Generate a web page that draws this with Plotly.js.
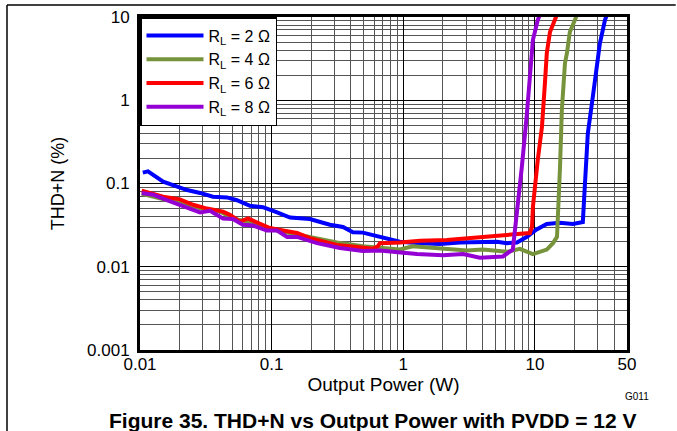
<!DOCTYPE html>
<html>
<head>
<meta charset="utf-8">
<script src="https://cdn.plot.ly/plotly-3.0.1.min.js"></script>
<style>html,body{margin:0;padding:0;background:#fff;}#chart{width:677px;height:431px;}</style>
</head>
<body>
<div id="chart"></div>
<script>
// Series names
const seriesNames = ['R<sub>L</sub> = 2 Ω', 'R<sub>L</sub> = 4 Ω', 'R<sub>L</sub> = 6 Ω', 'R<sub>L</sub> = 8 Ω'];
const seriesColors = ['#0000FF', '#77933C', '#FF0000', '#9400D3'];

// Output power (W) and THD+N (%)
const p2 = [0.0105, 0.0115, 0.015, 0.0228, 0.0286, 0.0358, 0.0458, 0.0545, 0.0684, 0.0859, 0.110, 0.138, 0.195, 0.277, 0.348, 0.414, 0.493, 0.664, 0.942, 1.34, 1.90, 2.69, 3.82, 5.14, 6.12, 7.30, 8.69, 10.3, 12.3, 15.4, 19.4, 23.1, 23.9, 25.2, 27.5, 29.5, 31.1, 34.0, 35.5];
const thd2 = [0.135, 0.14, 0.105, 0.0835, 0.077, 0.0695, 0.068, 0.063, 0.054, 0.052, 0.045, 0.039, 0.0375, 0.032, 0.030, 0.026, 0.0257, 0.0229, 0.020, 0.0192, 0.0188, 0.0196, 0.020, 0.020, 0.0192, 0.0196, 0.0229, 0.028, 0.0327, 0.0338, 0.0327, 0.0345, 0.0916, 0.40, 1.1, 2.5, 4.8, 9.2, 11];

const p4 = [0.0103, 0.0135, 0.0201, 0.0323, 0.0405, 0.0508, 0.0649, 0.097, 0.138, 0.221, 0.313, 0.493, 0.664, 0.942, 1.18, 1.59, 2.14, 3.04, 4.02, 6.12, 7.67, 9.64, 12.3, 13.7, 14.7, 14.9, 15.5, 16.0, 16.9, 17.5, 18.4, 20.1, 21];
const thd4 = [0.075, 0.067, 0.058, 0.048, 0.046, 0.038, 0.0348, 0.0284, 0.0254, 0.0215, 0.0196, 0.0176, 0.0168, 0.0161, 0.0176, 0.0171, 0.0164, 0.0157, 0.0161, 0.0151, 0.0164, 0.0142, 0.0161, 0.0192, 0.0229, 0.036, 0.159, 0.76, 2.8, 3.7, 6.6, 9.2, 11];

const p6 = [0.0103, 0.0119, 0.015, 0.0201, 0.0253, 0.0323, 0.0427, 0.0482, 0.0574, 0.0661, 0.0773, 0.097, 0.122, 0.156, 0.195, 0.245, 0.313, 0.445, 0.588, 0.641, 0.664, 0.942, 1.34, 2.14, 3.38, 5.14, 7.67, 9.14, 9.49, 9.65, 10.5, 11.3, 11.9, 12.3, 13.0, 14.2, 14.8];
const thd6 = [0.082, 0.077, 0.0695, 0.0645, 0.0555, 0.050, 0.046, 0.042, 0.0348, 0.038, 0.0338, 0.0292, 0.0272, 0.0254, 0.0221, 0.020, 0.0183, 0.0173, 0.0165, 0.0176, 0.0192, 0.0196, 0.0205, 0.021, 0.0223, 0.023, 0.0245, 0.0254, 0.030, 0.0527, 0.191, 0.48, 1.6, 3.7, 6.6, 9.2, 11];

const p8 = [0.0103, 0.0126, 0.016, 0.0201, 0.0286, 0.034, 0.0427, 0.0508, 0.0605, 0.0721, 0.092, 0.110, 0.131, 0.156, 0.221, 0.330, 0.493, 0.664, 0.893, 1.27, 2.00, 2.84, 3.82, 5.71, 6.79, 7.03, 7.29, 7.42, 7.95, 8.69, 9.15, 9.64, 10.5, 11.0];
const thd8 = [0.077, 0.0734, 0.063, 0.0555, 0.045, 0.047, 0.038, 0.0375, 0.032, 0.0313, 0.0272, 0.0272, 0.0228, 0.0228, 0.0192, 0.0168, 0.0155, 0.0157, 0.015, 0.0142, 0.0137, 0.0142, 0.0128, 0.0133, 0.0161, 0.0254, 0.0439, 0.0527, 0.159, 0.70, 2.1, 5.3, 9.2, 11];

// Tick labels
const xTickVals = [0.01, 0.1, 1, 10, 50];
const xTickText = ['0.01', '0.1', '1', '10', '50'];
const yTickVals = [0.001, 0.01, 0.1, 1, 10];
const yTickText = ['0.001', '0.01', '0.1', '1', '10'];

const xs = [p2, p4, p6, p8];
const ys = [thd2, thd4, thd6, thd8];

const traces = xs.map((x, i) => ({
  x: x, y: ys[i], type: 'scatter', mode: 'lines', name: seriesNames[i],
  line: {color: seriesColors[i], width: 4}
}));

const FONT = 'Liberation Sans, Arial, sans-serif';

const layout = {
  width: 677, height: 431,
  margin: {l: 140, r: 50, t: 17, b: 81},
  paper_bgcolor: '#fff', plot_bgcolor: '#fff',
  font: {family: FONT, size: 17, color: '#000'},
  showlegend: true,
  legend: {x: 0, y: 1, xanchor: 'left', yanchor: 'top', bgcolor: '#fff',
           bordercolor: '#000', borderwidth: 1.5, font: {size: 16, family: FONT},
           itemwidth: 57, tracegroupgap: 0},
  xaxis: {
    type: 'log', range: [-2, Math.log10(50)],
    tickmode: 'array', tickvals: xTickVals, ticktext: xTickText,
    showgrid: true, gridcolor: '#000', gridwidth: 1,
    minor: {dtick: 'D1', showgrid: true, gridcolor: '#555', gridwidth: 1},
    showline: true, mirror: true, linecolor: '#000', linewidth: 3,
    ticks: '', zeroline: false, ticklabelstandoff: -3,
    title: {text: 'Output Power (W)', font: {size: 19}, standoff: 4},
    tickfont: {size: 17}
  },
  yaxis: {
    type: 'log', range: [-3, 1],
    tickmode: 'array', tickvals: yTickVals, ticktext: yTickText,
    showgrid: true, gridcolor: '#000', gridwidth: 1,
    minor: {dtick: 'D1', showgrid: true, gridcolor: '#555', gridwidth: 1},
    showline: true, mirror: true, linecolor: '#000', linewidth: 3,
    ticks: '', zeroline: false, ticklabelstandoff: 4,
    title: {text: 'THD+N (%)', font: {size: 18}, standoff: 18},
    tickfont: {size: 17}
  },
  shapes: [
    {type: 'line', xref: 'paper', yref: 'paper', x0: -0.2731, x1: 1.1, y0: 1.036, y1: 1.036,
     line: {color: '#000', width: 1.5}},
    {type: 'line', xref: 'paper', yref: 'paper', x0: -0.2731, x1: -0.2731, y0: 1.036, y1: -0.25,
     line: {color: '#000', width: 1.5}}
  ],
  annotations: [
    {text: '<b>Figure 35. THD+N vs Output Power with PVDD = 12 V</b>', xref: 'paper', yref: 'paper',
     x: (372 - 140) / 487, y: (350 - 420) / 333, xanchor: 'center', yanchor: 'middle', showarrow: false,
     font: {size: 21, family: FONT, color: '#000'}},
    {text: 'G011', xref: 'paper', yref: 'paper',
     x: (637 - 140) / 487, y: (350 - 396) / 333, xanchor: 'center', yanchor: 'middle', showarrow: false,
     font: {size: 10, family: FONT, color: '#000'}}
  ]
};

Plotly.newPlot('chart', traces, layout, {displayModeBar: false, staticPlot: true});
</script>
</body>
</html>
